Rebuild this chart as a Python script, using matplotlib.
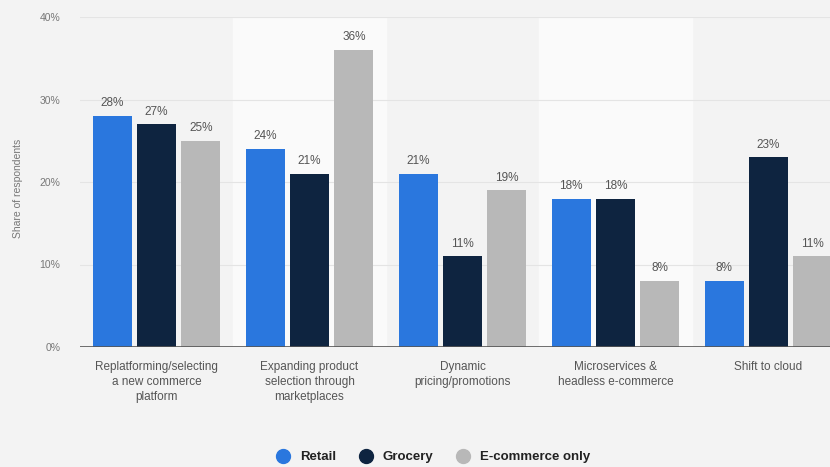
import numpy as np
import matplotlib.pyplot as plt

categories = [
    "Replatforming/selecting\na new commerce\nplatform",
    "Expanding product\nselection through\nmarketplaces",
    "Dynamic\npricing/promotions",
    "Microservices &\nheadless e-commerce",
    "Shift to cloud",
]
series_names = ["Retail", "Grocery", "E-commerce only"]
retail = [28, 24, 21, 18, 8]
grocery = [27, 21, 11, 18, 23]
ecommerce = [25, 36, 19, 8, 11]
yticks = [0, 10, 20, 30, 40]

colors = ["#2a77de", "#0e2440", "#b8b8b8"]
plt.rcParams["font.family"] = ["Liberation Sans", "DejaVu Sans"]

fig = plt.figure(figsize=(8.3, 4.67), dpi=100)
fig.patch.set_facecolor("#f3f3f3")
ax = fig.add_axes([80 / 830, 120 / 467, 765 / 830, 330 / 467])
ax.set_facecolor("#f3f3f3")

x = np.arange(len(categories))
# lighter bands behind every second group
for i in x:
    if i % 2 == 1:
        ax.axvspan(i - 0.5, i + 0.5, color="#fafafa", zorder=0)

for v in yticks[1:]:
    ax.axhline(v, color="#e4e4e4", lw=0.8, zorder=1)

offset = 0.29
width = 0.255
for k, vals in enumerate([retail, grocery, ecommerce]):
    pos = x + (k - 1) * offset
    ax.bar(pos, vals, width=width, color=colors[k], zorder=2,
           label=series_names[k])
    for p, v in zip(pos, vals):
        ax.text(p, v + 0.8, f"{v}%", ha="center", va="bottom",
                fontsize=8.5, color="#555555")

ax.axhline(0, color="#555555", lw=1.2, zorder=3)
ax.set_xlim(-0.5, len(categories) - 0.5)
ax.set_ylim(0, 40)
ax.set_yticks(yticks)
ax.set_yticklabels([f"{v}%" for v in yticks], fontsize=7.5, color="#777777")
ax.set_xticks(x)
ax.set_xticklabels(categories, fontsize=8.5, color="#555555", linespacing=1.35)
ax.tick_params(axis="both", length=0)
ax.tick_params(axis="y", pad=14)
ax.tick_params(axis="x", pad=10)
for s in ax.spines.values():
    s.set_visible(False)

fig.text(18 / 830, 1 - 188 / 467, "Share of respondents", rotation=90,
         ha="center", va="center", fontsize=7.5, color="#777777")

handles = [plt.Line2D([], [], marker="o", ls="", color=c, markersize=10)
           for c in colors]
leg = fig.legend(handles, series_names, loc="center",
                 bbox_to_anchor=(430 / 830, 1 - 457 / 467), ncol=3,
                 frameon=False, handletextpad=0.3, columnspacing=1.2,
                 prop={"weight": "bold", "size": 9.5})
for t in leg.get_texts():
    t.set_color("#222222")

plt.savefig("out.png", dpi=100, facecolor=fig.get_facecolor())
